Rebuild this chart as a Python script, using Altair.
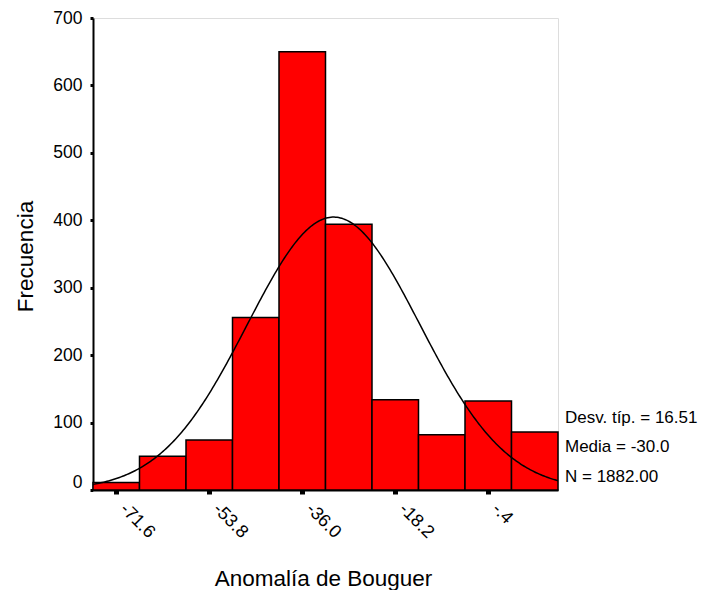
import altair as alt
import numpy as np
import pandas as pd

# ---- data ----
bin_centers = [-71.6, -62.7, -53.8, -44.9, -36.0, -27.1, -18.2, -9.3, -0.4, 8.5]
frequencies = [11, 50, 74, 256, 650, 394, 134, 82, 132, 86]
bin_width = 8.9
tick_values = [-71.6, -53.8, -36.0, -18.2, -0.4]
tick_labels = ["-71.6", "-53.8", "-36.0", "-18.2", "-.4"]
y_ticks = [0, 100, 200, 300, 400, 500, 600, 700]
std_dev = 16.51
mean = -30.0
n_total = 1882
stats_lines = ["Desv. típ. = 16.51", "Media = -30.0", "N = 1882.00"]

FONT = "Liberation Sans, Arial, sans-serif"
W, H = 465, 472
x_min = bin_centers[0] - bin_width / 2
x_max = bin_centers[-1] + bin_width / 2

bars_df = pd.DataFrame({"center": bin_centers, "freq": frequencies})

# fitted normal curve, defined by the statistics shown in the chart
xs = np.linspace(x_min, x_max, 300)
peak = n_total * bin_width / (std_dev * np.sqrt(2 * np.pi))
curve_df = pd.DataFrame({"x": xs, "y": peak * np.exp(-0.5 * ((xs - mean) / std_dev) ** 2)})

label_expr = "''"
for v, l in reversed(list(zip(tick_values, tick_labels))):
    label_expr = f"abs(datum.value - ({v})) < 0.01 ? '{l}' : ({label_expr})"

x_scale = alt.Scale(domain=[x_min, x_max], nice=False, zero=False)
y_scale = alt.Scale(domain=[0, 700], nice=False)

x_axis = alt.Axis(
    values=tick_values,
    labelExpr=label_expr,
    labelAngle=45, labelAlign="left", labelBaseline="middle",
    labelPadding=12, labelOffset=6, labelFontSize=18, labelFont=FONT, labelColor="black",
    tickSize=4, tickWidth=5, tickColor="black",
    domainColor="black", domainWidth=2, grid=False,
    title="Anomalía de Bouguer", titleFont=FONT, titleFontSize=22.5,
    titleFontWeight="normal", titleColor="black",
    titleX=230, titleY=95, titleAlign="center", titleBaseline="alphabetic",
    titleAnchor="start",
)
y_axis = alt.Axis(
    values=y_ticks, format="d",
    labelFontSize=17.5, labelFont=FONT, labelColor="black", labelPadding=8,
    labelOffset={"condition": {"test": "datum.value == 0", "value": -8}, "value": 0},
    tickSize=3, tickWidth=3, tickColor="black",
    domainColor="black", domainWidth=2, grid=False,
    title="Frecuencia", titleFont=FONT, titleFontSize=22.5,
    titleFontWeight="normal", titleColor="black",
    titleAngle=270, titleX=-61, titleY=238, titleAlign="center",
    titleBaseline="alphabetic", titleAnchor="start",
)

bars = alt.Chart(bars_df).transform_calculate(
    x0=f"datum.center - {bin_width / 2}", x1=f"datum.center + {bin_width / 2}"
).mark_rect(color="#ff0000", stroke="black", strokeWidth=1.5).encode(
    x=alt.X("x0:Q", scale=x_scale, axis=x_axis),
    x2="x1:Q",
    y=alt.Y("freq:Q", scale=y_scale, axis=y_axis),
    y2=alt.datum(0),
)

curve = alt.Chart(curve_df).mark_line(color="black", strokeWidth=1.5, clip=True).encode(
    x=alt.X("x:Q", scale=x_scale),
    y=alt.Y("y:Q", scale=y_scale),
)

stats_df = pd.DataFrame({"text": stats_lines, "row": [0, 1, 2]})
stats = alt.Chart(stats_df).transform_calculate(
    py="404.7 + datum.row * 29.5"
).mark_text(align="left", baseline="alphabetic", font=FONT, fontSize=17, color="black").encode(
    x=alt.value(472),
    y=alt.Y("py:Q", scale=None),
    text="text:N",
)

chart = alt.layer(bars, curve, stats).properties(
    width=W, height=H,
    autosize=alt.AutoSizeParams(type="none"),
    padding={"left": 85, "top": 10, "right": 141, "bottom": 100},
).configure_view(stroke="black", strokeWidth=1).configure(background="white")

chart.save("out.html", embed_options={"renderer": "svg", "actions": False})
